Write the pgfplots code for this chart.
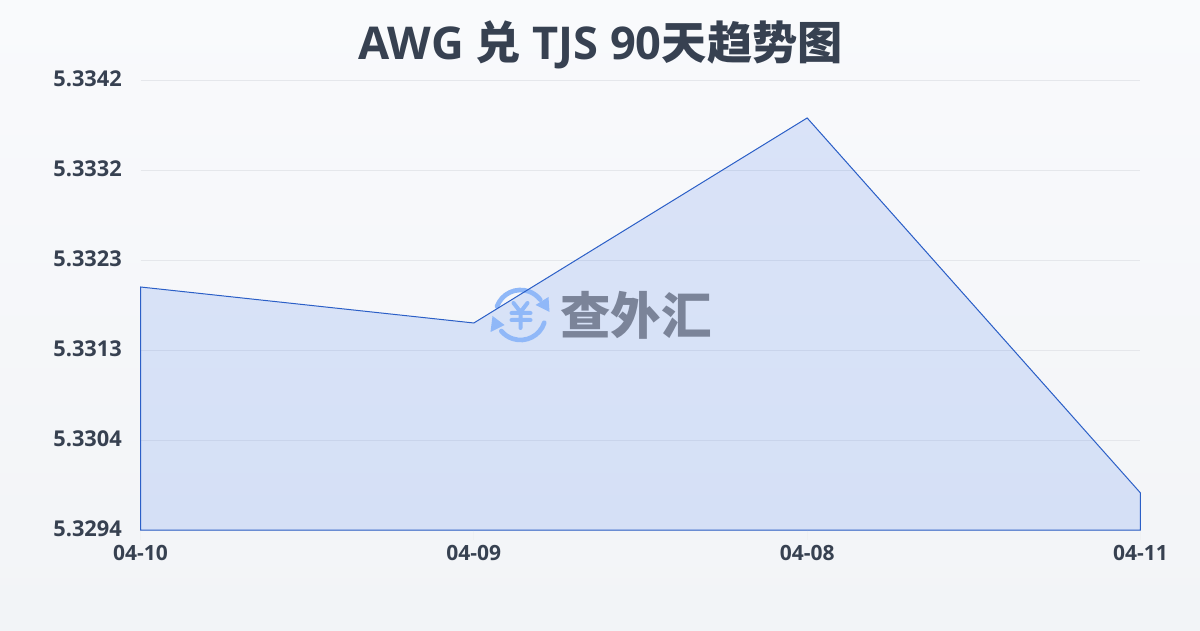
\documentclass[border=0pt]{standalone}
\usepackage{pgfplots}
\pgfplotsset{compat=1.18}
\usepackage{fontspec}
\setmainfont{Open Sans}
\newfontfamily\cjk{Noto Sans CJK SC}
\definecolor{txt}{HTML}{374151}
\definecolor{linec}{HTML}{2B5FC7}
\definecolor{fillc}{HTML}{2563EB}
\definecolor{gridc}{HTML}{E5E7EB}
\definecolor{logoc}{HTML}{90B8F8}
\definecolor{wm}{HTML}{7B8499}
\definecolor{bgtop}{HTML}{F9FAFC}
\definecolor{bgbot}{HTML}{F2F4F7}
\pgfplotstableread{
x y
0 5.3294
0 5.331992
1 5.331608
2 5.333795
3 5.329795
3 5.3294
}\series
\begin{document}
\begin{tikzpicture}[x=1pt,y=1pt]
\path[use as bounding box] (0,0) rectangle (1200,630);
\shade[top color=bgtop,bottom color=bgbot] (0,0) rectangle (1200,630);
\begin{axis}[
  at={(140.5pt,100pt)},anchor=south west,
  scale only axis,width=1000pt,height=450pt,
  xmin=0,xmax=3,ymin=5.3294,ymax=5.3342,
  axis line style={draw=none},
  ytick={5.3294,5.33036,5.33132,5.33228,5.33324,5.3342},
  yticklabels={5.3294,5.3304,5.3313,5.3323,5.3332,5.3342},
  xtick={0,1,2,3},
  xticklabels={04-10,04-09,04-08,04-11},
  xtick pos=bottom,
  ymajorgrids,
  grid style={gridc,line width=0.8pt},
  tick align=outside,
  major tick length=10pt,
  xtick style={color=gridc!60,line width=0.8pt},
  ytick style={draw=none},
  yticklabel style={font=\fontsize{21.8}{22}\selectfont\bfseries,text=txt,inner sep=0pt,xshift=-8.5pt,yshift=1pt},
  xticklabel style={font=\fontsize{21}{21}\selectfont\bfseries,text=txt,inner sep=0pt,yshift=-5.5pt},
  clip=false,
]
\addplot[draw=none,fill=fillc,fill opacity=0.14,forget plot] table[x=x,y=y]{\series} -- cycle;
\end{axis}
% watermark
\begin{scope}[shift={(520.5,315)}]
\draw[logoc,line width=4.7pt,line cap=round] (160:25) arc (160:38:25);
\draw[logoc,line width=4.7pt,line cap=round] (-18:25) arc (-18:-140:25);
\fill[logoc] (15,10) -- (28,18) -- (29,3) -- cycle;
\fill[logoc] (-16,-10) -- (-30,-17) -- (-28,-1) -- cycle;
\draw[logoc,line width=4pt,line cap=round,line join=round] (-7,12) -- (0,3) -- (7,12) (0,3) -- (0,-13) (-9,2) -- (10,2) (-9,-5) -- (10,-5);
\end{scope}
\node[font=\cjk\fontsize{50.5}{50.5}\selectfont\bfseries,text=wm,inner sep=0pt] at (636,315) {查外汇};
\begin{axis}[
  at={(140.5pt,100pt)},anchor=south west,
  scale only axis,width=1000pt,height=450pt,
  xmin=0,xmax=3,ymin=5.3294,ymax=5.3342,
  hide axis,clip=false,
]
\addplot[draw=linec,line width=1pt,fill=none] table[x=x,y=y]{\series} -- cycle;
\end{axis}
\node[font=\fontsize{45.2}{46}\selectfont\bfseries,text=txt] at (600.5,585) {AWG {\cjk 兑} TJS 90{\cjk 天趋势图}};
\end{tikzpicture}
\end{document}
